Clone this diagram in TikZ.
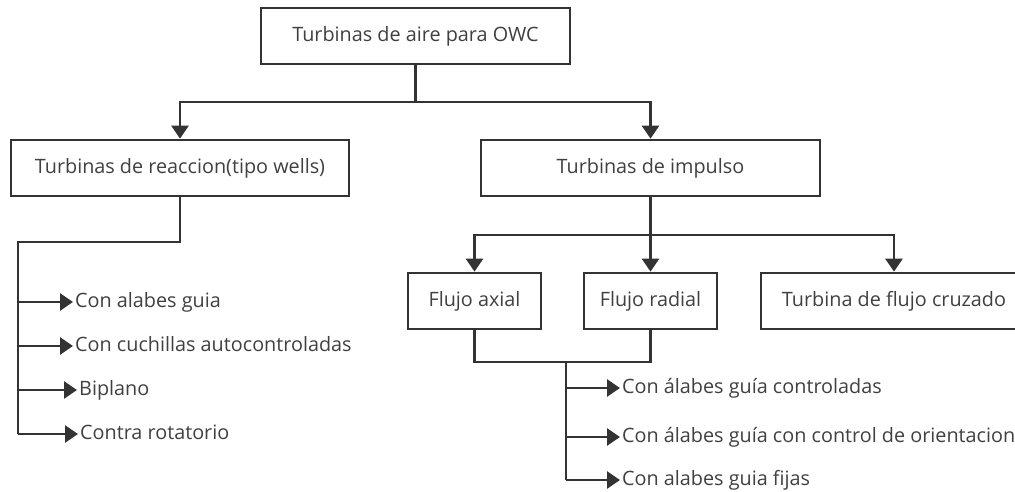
\documentclass[tikz,border=0pt]{standalone}
\usepackage{fontspec}
\setmainfont{Open Sans}
\usetikzlibrary{arrows.meta}
\definecolor{ln}{HTML}{333333}
\definecolor{tx}{HTML}{404040}
\begin{document}
\begin{tikzpicture}[x=1pt,y=-1pt,
  box/.style={draw=ln, line width=2.7pt, text=tx, font=\fontsize{19.8}{23}\selectfont,
    inner sep=0pt, minimum height=56pt},
  conn/.style={draw=ln, line width=2.7pt},
  arr/.style={conn, -{Triangle[length=13pt,width=17pt]}},
  leaf/.style={text=tx, font=\fontsize{19.8}{23}\selectfont, anchor=west,
    inner xsep=2pt, inner ysep=0pt, text height=14pt, text depth=4pt}
]
\useasboundingbox (0,0) rectangle (1015,491);

\node[box, minimum width=309pt] (top) at (415.5,36) {Turbinas de aire para OWC};
\node[box, minimum width=338pt] (left) at (180,168) {Turbinas de reaccion(tipo wells)};
\node[box, minimum width=339pt] (right) at (650.5,168) {Turbinas de impulso};
\node[box, minimum width=133pt] (axial) at (474.5,301) {Flujo axial};
\node[box, minimum width=133pt] (radial) at (650.5,301) {Flujo radial};
\node[box, minimum width=266pt] (cruz) at (894,301) {Turbina de flujo cruzado};

% top level
\coordinate (j1) at (415.5,102);
\draw[conn] (top.south) -- (j1);
\draw[arr] (j1) -| (left.north);
\draw[arr] (j1) -| (right.north);

% left tree
\coordinate (lt) at (18,242);
\coordinate (lb) at (18,434);
\draw[conn] (left.south) |- (lt) -- (lb);
\node[leaf] (l1) at (73,302) {Con alabes guia};
\node[leaf] (l2) at (73,346) {Con cuchillas autocontroladas};
\node[leaf] (l3) at (77,390) {Biplano};
\node[leaf] (l4) at (78,434) {Contra rotatorio};
\foreach \n in {l1,l2,l3,l4}{
  \draw[arr] (lt |- \n.west) -- (\n.west);
}

% right tree
\coordinate (j2) at (650.5,235);
\draw[conn] (right.south) -- (j2);
\draw[arr] (j2) -| (axial.north);
\draw[arr] (j2) -- (radial.north);
\draw[arr] (j2) -| (cruz.north);

% under axial / radial
\coordinate (j3) at (566,362);
\coordinate (j4) at (566,480);
\draw[conn] (axial.south) |- (j3) -| (radial.south);
\draw[conn] (j3) -- (j4);
\node[leaf] (r1) at (620,388) {Con álabes guía controladas};
\node[leaf] (r2) at (620,437) {Con álabes guía con control de orientacion};
\node[leaf] (r3) at (620,480) {Con alabes guia fijas};
\foreach \n in {r1,r2,r3}{
  \draw[arr] (j3 |- \n.west) -- (\n.west);
}
\end{tikzpicture}
\end{document}
